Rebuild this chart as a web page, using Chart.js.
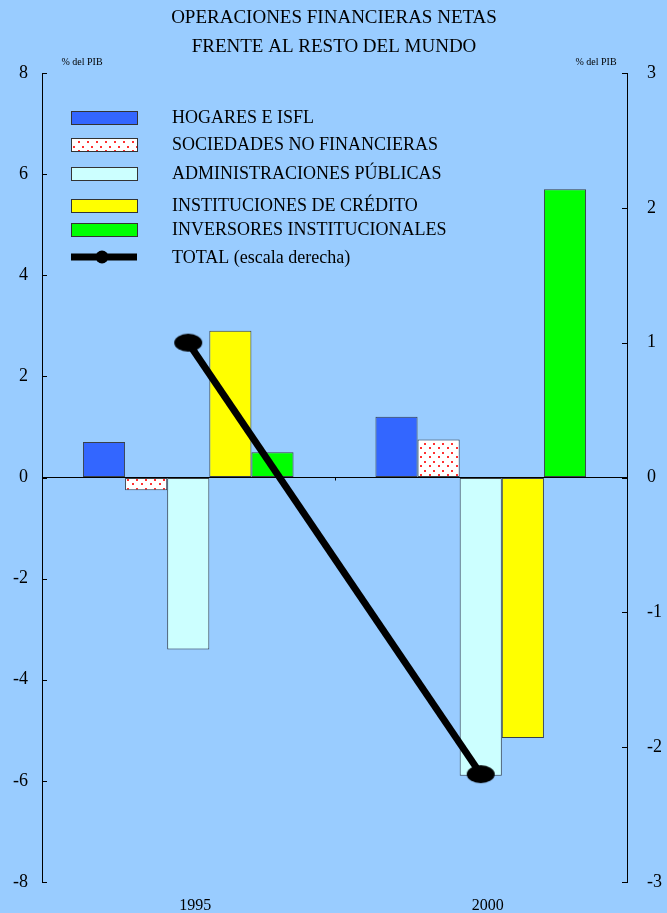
<!DOCTYPE html>
<html>
<head>
<meta charset="utf-8">
<script src="https://cdn.jsdelivr.net/npm/chart.js@4.4.1/dist/chart.umd.min.js"></script>
<style>
  body { margin: 0; background: #99CCFF; }
  #wrap { width: 667px; height: 913px; position: relative; }
</style>
</head>
<body>
<div id="wrap"><canvas id="stage"></canvas></div>
<script>
// datos (% del PIB)
var years = ['1995', '2000'];
var hogares = [0.7, 1.2];
var sociedades = [-0.25, 0.75];
var administraciones = [-3.4, -5.9];
var credito = [2.9, -5.15];
var inversores = [0.5, 5.7];
var total = [1.0, -2.2];   // escala derecha
var leftTicks = [-8, -6, -4, -2, 0, 2, 4, 6, 8];
var rightTicks = [-3, -2, -1, 0, 1, 2, 3];

var serif = "'Liberation Serif', 'Times New Roman', serif";

// trama punteada roja para sociedades
var pat = document.createElement('canvas');
pat.width = 9; pat.height = 9;
var pc = pat.getContext('2d');
pc.fillStyle = '#ffffff';
pc.fillRect(0, 0, 9, 9);
pc.fillStyle = '#ff3030';
pc.fillRect(1, 2, 2, 2);
pc.fillRect(6, 6, 2, 2);
var dots = pc.createPattern(pat, 'repeat');

// marcador elíptico de la línea
var ell = document.createElement('canvas');
ell.width = 30; ell.height = 20;
var ec = ell.getContext('2d');
ec.fillStyle = '#000';
ec.beginPath();
ec.ellipse(15, 10, 14, 9, 0, 0, Math.PI * 2);
ec.fill();

function bar(label, data, color) {
    return {
        type: 'bar', label: label, data: data, yAxisID: 'y',
        backgroundColor: color, borderColor: 'rgba(40,40,40,0.85)', borderWidth: 1,
        borderSkipped: false, order: 1
    };
}

var mydata = {
    labels: years,
    datasets: [
        bar('HOGARES E ISFL', hogares, '#3366FF'),
        bar('SOCIEDADES NO FINANCIERAS', sociedades, dots),
        bar('ADMINISTRACIONES PÚBLICAS', administraciones, '#CCFFFF'),
        bar('INSTITUCIONES DE CRÉDITO', credito, '#FFFF00'),
        bar('INVERSORES INSTITUCIONALES', inversores, '#00FF00'),
        {
            type: 'line', label: 'TOTAL (escala derecha)', data: total, yAxisID: 'y1',
            borderColor: '#000', borderWidth: 7, tension: 0,
            pointStyle: ell, pointRadius: 10, order: 0
        }
    ]
};

// títulos, leyenda y marcas de eje
var decor = {
    id: 'decor',
    afterDraw: function (chart) {
        var c = chart.ctx, a = chart.chartArea;
        c.save();
        c.fillStyle = '#000';
        c.textAlign = 'center';
        c.textBaseline = 'middle';
        c.font = '19px ' + serif;
        c.fillText('OPERACIONES FINANCIERAS NETAS', 334, 18);
        c.fillText('FRENTE AL RESTO DEL MUNDO', 334, 47);
        c.font = '10px ' + serif;
        c.fillText('% del PIB', 82, 62);
        c.fillText('% del PIB', 596, 62);

        // marcas hacia dentro
        c.strokeStyle = '#000';
        c.lineWidth = 1;
        var y = chart.scales.y, y1 = chart.scales.y1, x = chart.scales.x;
        y.ticks.forEach(function (t) {
            var p = Math.round(y.getPixelForValue(t.value)) + 0.5;
            c.beginPath(); c.moveTo(a.left, p); c.lineTo(a.left + 5, p); c.stroke();
        });
        y1.ticks.forEach(function (t) {
            var p = Math.round(y1.getPixelForValue(t.value)) + 0.5;
            c.beginPath(); c.moveTo(a.right - 5, p); c.lineTo(a.right, p); c.stroke();
        });
        var mid = Math.round((x.getPixelForValue(0) + x.getPixelForValue(1)) / 2) + 0.5;
        var z = y.getPixelForValue(0);
        c.beginPath(); c.moveTo(mid, z); c.lineTo(mid, z + 3); c.stroke();

        // leyenda
        var rows = [117, 144, 173, 205, 229, 257];
        c.font = '18px ' + serif;
        c.textAlign = 'left';
        chart.data.datasets.forEach(function (ds, i) {
            var ry = rows[i];
            if (ds.type === 'bar') {
                c.fillStyle = ds.backgroundColor;
                c.fillRect(71, ry - 6, 66, 13);
                c.strokeStyle = '#333';
                c.strokeRect(71.5, ry - 5.5, 66, 13);
            } else {
                c.strokeStyle = '#000';
                c.lineWidth = 7;
                c.beginPath(); c.moveTo(71, ry); c.lineTo(137, ry); c.stroke();
                c.fillStyle = '#000';
                c.beginPath(); c.arc(102, ry, 6.5, 0, Math.PI * 2); c.fill();
                c.lineWidth = 1;
            }
            c.fillStyle = '#000';
            c.fillText(ds.label, 172, ry + 1);
        });
        c.restore();
    }
};

var options = {
    responsive: true,
    maintainAspectRatio: false,
    animation: false,
    layout: { padding: { top: 73, left: 0, right: 0, bottom: 0 } },
    plugins: {
        legend: { display: false },
        title: { display: false },
        tooltip: { enabled: false }
    },
    datasets: { bar: { categoryPercentage: 0.72, barPercentage: 1.0 } },
    scales: {
        x: {
            offset: true,
            grid: { display: false },
            border: { display: false },
            ticks: { color: '#000', font: { family: serif, size: 16 }, padding: 6, labelOffset: 7 },
            afterFit: function (s) { s.height = 31; }
        },
        y: {
            position: 'left',
            min: -8, max: 8,
            afterBuildTicks: function (s) { s.ticks = leftTicks.map(function (v) { return { value: v }; }); },
            grid: {
                drawTicks: false,
                color: function (ctx) { return ctx.tick && ctx.tick.value === 0 ? '#000' : 'rgba(0,0,0,0)'; }
            },
            border: { display: true, color: '#000', width: 1 },
            ticks: { color: '#000', font: { family: serif, size: 18 }, padding: 14 },
            afterFit: function (s) { s.width = 42; }
        },
        y1: {
            position: 'right',
            min: -3, max: 3,
            afterBuildTicks: function (s) { s.ticks = rightTicks.map(function (v) { return { value: v }; }); },
            grid: { drawOnChartArea: false, drawTicks: false },
            border: { display: true, color: '#000', width: 1 },
            ticks: { color: '#000', font: { family: serif, size: 18 }, padding: 20 },
            afterFit: function (s) { s.width = 40; }
        }
    }
};

var canvas = document.getElementById('stage');
var chart = new Chart(canvas, {
    data: mydata,
    options: options,
    plugins: [decor]
});
</script>
</body>
</html>
